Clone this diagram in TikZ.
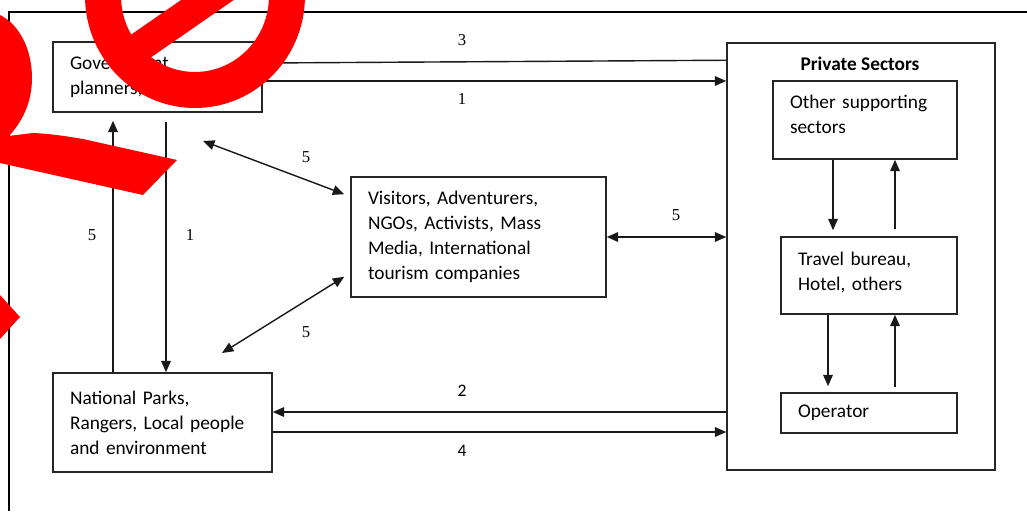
\documentclass[tikz,border=0pt]{standalone}
\usepackage{fontspec}
\setmainfont{Liberation Serif}
\newfontfamily\boxfont{Carlito}
\usepackage{tikz}
\usetikzlibrary{arrows.meta, positioning, calc}

\begin{document}
\begin{tikzpicture}[
    x=0.02cm, y=-0.02cm,
    box/.style={rectangle, draw=black!85, line width=0.9pt, align=left,
                inner xsep=0.34cm, inner ysep=0pt,
                font=\boxfont\fontsize{11}{14.2}\selectfont},
    num/.style={font=\fontsize{9.5}{11}\selectfont, inner sep=0pt},
    numsans/.style={font=\boxfont\fontsize{10}{11}\selectfont, inner sep=0pt},
    link/.style={line width=0.8pt, black!90},
    arr/.style={-{Triangle[length=6.5pt, width=5.5pt]}, link},
    darr/.style={{Triangle[length=6.5pt, width=5.5pt]}-{Triangle[length=6.5pt, width=5.5pt]}, link},
    ink/.style={red},
]
    \useasboundingbox (0,0) rectangle (1027,511);

    % Page frame
    \draw[line width=1.1pt] (9,511) -- (9,12) -- (1027,12);

    % Left side
    \node[box, minimum height=1.4cm, text width=3.5cm] (gov) at (157.5,77) {Government\\planners,};
    \node[box, minimum height=1.98cm, text width=3.7cm] (np) at (162.5,422.5)
        {National Parks,\\Rangers, Local people\\and environment};

    % Middle
    \node[box, minimum height=2.4cm, text width=4.42cm] (vis) at (478.5,237)
        {Visitors, Adventurers,\\NGOs, Activists, Mass\\Media, International\\tourism companies};

    % Private sectors
    \node[draw=black!85, line width=0.9pt, minimum width=5.36cm, minimum height=8.54cm,
          inner sep=0pt] (priv) at (861,256.5) {};
    \node[font=\boxfont\bfseries\fontsize{11}{13}\selectfont] (privtitle) at (860,64) {Private Sectors};
    \node[box, minimum height=1.56cm, text width=3cm, text height=1.5pt] (oth) at (865,120) {Other supporting\\sectors};
    \node[box, minimum height=1.54cm, text width=2.84cm, text height=4.5pt] (tra) at (869,275.5) {Travel bureau,\\Hotel, others};
    \node[box, minimum height=0.8cm, text width=2.84cm] (op) at (869,413) {Operator};

    % Government -> private sectors
    \coordinate (gv3) at ([yshift=0.28cm]gov.east);
    \coordinate (gv1) at ([yshift=-0.08cm]gov.east);
    \draw[link] (gv3) -- ([yshift=-0.36cm]priv.north west);
    \draw[arr] (gv1) -- (gv1 -| priv.west);

    % Government <-> national parks
    \coordinate (up5) at ([xshift=-0.89cm, yshift=-0.16cm]gov.south);
    \coordinate (dn1) at ([xshift=0.17cm, yshift=-0.18cm]gov.south);
    \draw[arr] (np.north -| up5) -- (up5);
    \draw[arr] (dn1) -- (np.north -| dn1);

    % Visitors links
    \coordinate (d1a) at (203,141);
    \coordinate (d1b) at ([xshift=-0.12cm, yshift=-0.36cm]vis.north west);
    \coordinate (d2a) at (222,353);
    \coordinate (d2b) at ([xshift=-0.12cm, yshift=0.42cm]vis.south west);
    \draw[darr] (d1a) -- (d1b);
    \draw[darr] (d2a) -- (d2b);
    \draw[darr] (vis.east) -- (vis.east -| priv.west);

    % National parks <-> private sectors
    \coordinate (np2) at ([yshift=0.21cm]np.east);
    \coordinate (np4) at ([yshift=-0.19cm]np.east);
    \draw[arr] (np2 -| priv.west) -- (np2);
    \draw[arr] (np4) -- (np4 -| priv.west);

    % Inside private sectors
    \coordinate (od) at ([xshift=-0.64cm]oth.south);
    \coordinate (ou) at ([xshift=0.6cm]oth.south);
    \coordinate (td) at ([xshift=-0.82cm]tra.south);
    \coordinate (tu) at ([xshift=0.52cm]tra.south);
    \draw[arr, shorten >=0.12cm] (od) -- (od |- tra.north);
    \draw[arr, shorten <=0.14cm] (ou |- tra.north) -- (ou);
    \draw[arr, shorten >=0.12cm] (td) -- (td |- op.north);
    \draw[arr, shorten <=0.1cm] (tu |- op.north) -- (tu);

    % Numbers
    \foreach \nm/\x/\y/\txt in {l3/462/40/3, l1/462/99/1, lv5/92/235/5, lv1/190/235/1,
                                ld1/306/157/5, ld2/306/332/5, lh5/676/215/5} {
        \node[num] (\nm) at (\x,\y) {\txt};
    }
    \node[numsans] (l2) at (462,391) {2};
    \node[numsans] (l4) at (462,451) {4};

    % Red marks
    \begin{scope}
        \clip (0,0) rectangle (1027,511);
        \draw[ink, line width=0.72cm] (195,-4) ellipse [x radius=1.84cm, y radius=1.88cm];
        \draw[ink, line width=0.6cm] (118,62) -- (265,-40);
        \fill[ink] (0,15) .. controls (20,25) and (32,50) .. (32,78)
            .. controls (32,105) and (20,125) .. (7,138) -- (0,140) -- cycle;
        \fill[ink] (0,137) -- (33,133) .. controls (55,134) and (70,137) .. (83,139)
            -- (177,160) -- (143,195) -- (0,163) -- cycle;
        \fill[ink] (0,295) -- (20,317) -- (0,339) -- cycle;
    \end{scope}
\end{tikzpicture}
\end{document}
